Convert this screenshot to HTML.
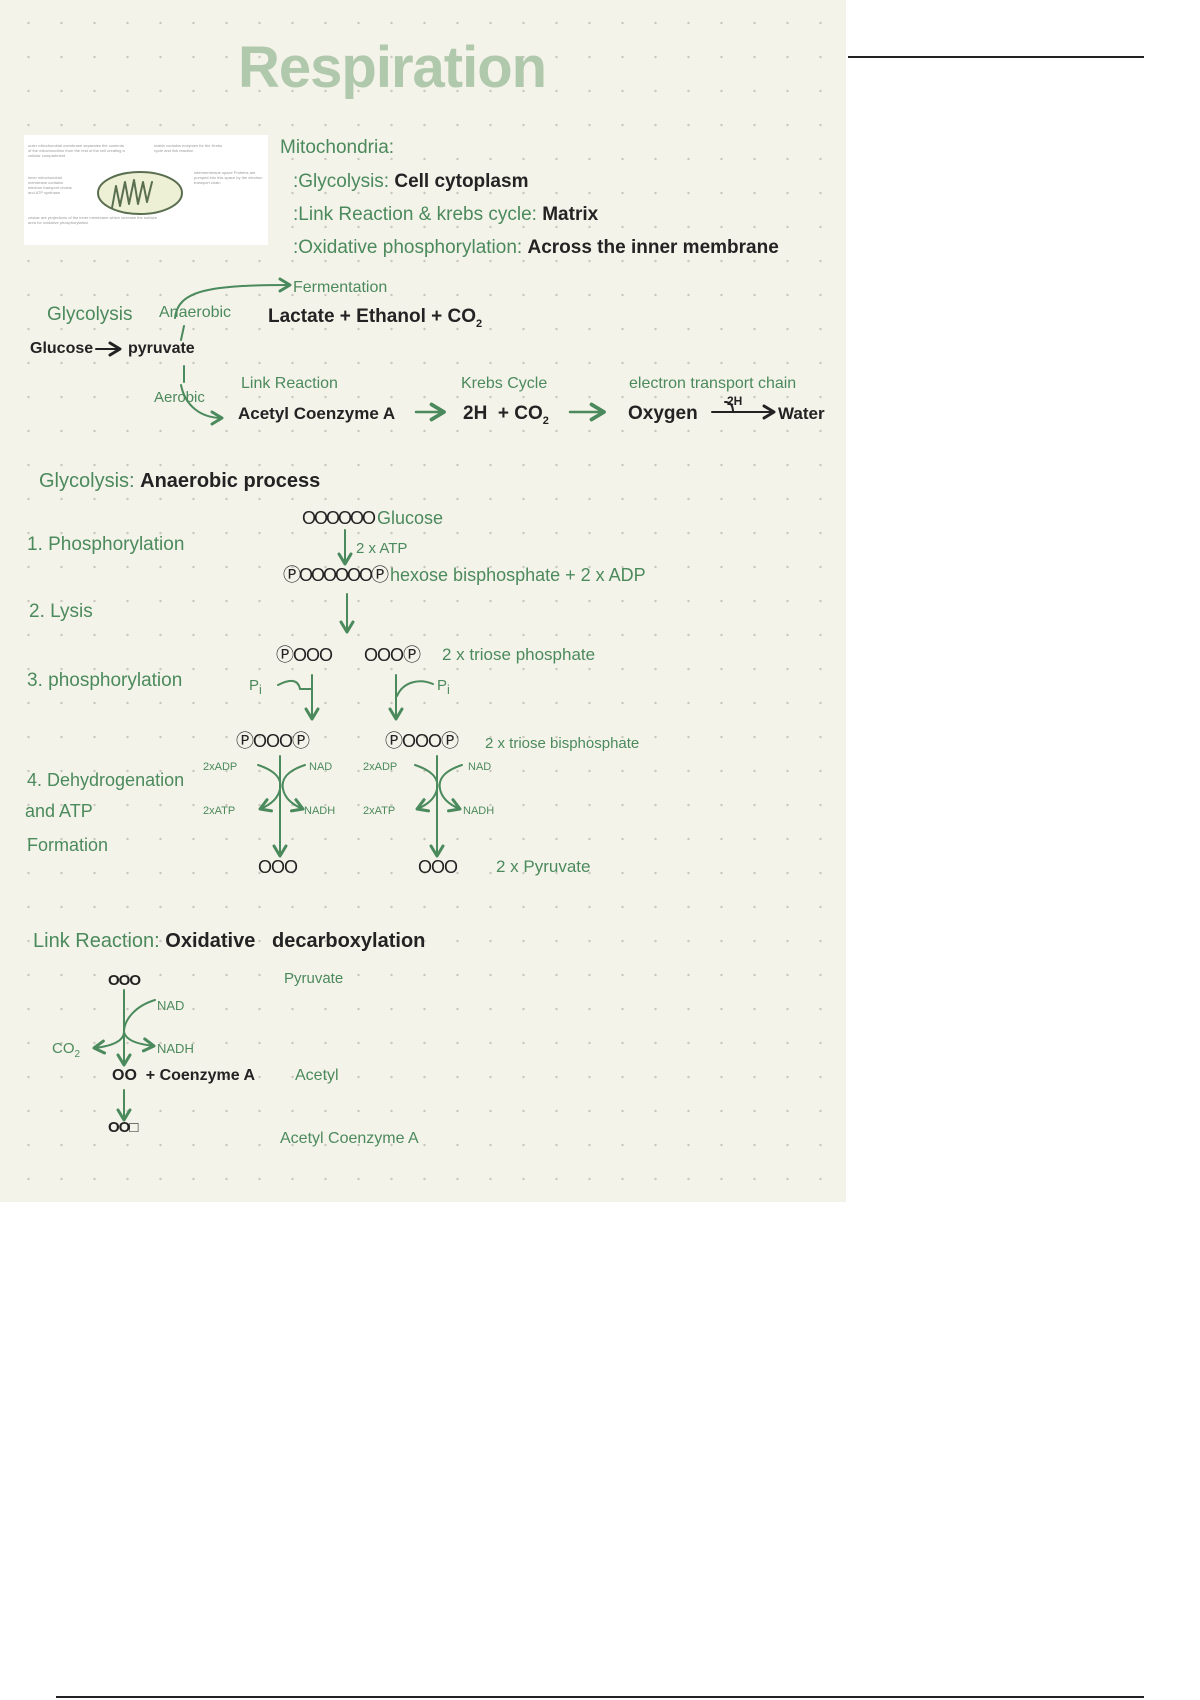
<!DOCTYPE html>
<html><head><meta charset="utf-8"><style>
body{margin:0;width:1200px;height:1700px;background:#fff;position:relative;overflow:hidden;font-family:"Liberation Sans",sans-serif}
#panel{position:absolute;left:0;top:0;width:846px;height:1202px;background-color:#f4f3ea;background-image:radial-gradient(circle,#c9c9bf 1.1px,transparent 1.4px);background-size:33px 34px;background-position:12px 6px}
.t{position:absolute;white-space:nowrap;font-size:19px;line-height:24px}
.g{color:#4b8a5c}.k{color:#232323;font-weight:bold}
.s{font-size:13px}
svg{position:absolute;left:0;top:0}
.img{position:absolute;left:24px;top:135px;width:244px;height:110px;background:#fff}
.tx{position:absolute;font-size:4px;line-height:5px;color:#999}
</style></head><body>
<div id="panel"></div>
<div style="position:absolute;left:848px;top:56px;width:296px;height:2px;background:#222"></div>
<div style="position:absolute;left:56px;top:1696px;width:1088px;height:2px;background:#222"></div>

<div class="t" style="left:238px;top:30px;font-size:58px;line-height:76px;color:#b0c8ab;font-weight:bold;letter-spacing:-1px">Respiration</div>

<div class="img">
<div class="tx" style="left:4px;top:8px;width:100px">outer mitochondrial membrane separates the contents of the mitochondrion from the rest of the cell creating a cellular compartment</div>
<div class="tx" style="left:130px;top:8px;width:70px">matrix contains enzymes for the Krebs cycle and link reaction</div>
<div class="tx" style="left:4px;top:40px;width:50px">inner mitochondrial membrane contains electron transport chains and ATP synthase</div>
<div class="tx" style="left:170px;top:35px;width:70px">intermembrane space Proteins are pumped into this space by the electron transport chain</div>
<div class="tx" style="left:4px;top:80px;width:130px">cristae are projections of the inner membrane which increase the surface area for oxidative phosphorylation</div>
</div>

<svg width="1200" height="1700" fill="none" stroke-linecap="round" stroke-linejoin="round">
<defs><marker id="a" markerWidth="8" markerHeight="8" refX="6" refY="4" orient="auto"><path d="M1,1 L6,4 L1,7" stroke="#4b8a5c" stroke-width="1.5" fill="none"/></marker>
<marker id="b" markerWidth="8" markerHeight="8" refX="6" refY="4" orient="auto"><path d="M1,1 L6,4 L1,7" stroke="#222" stroke-width="1.5" fill="none"/></marker></defs>
<ellipse cx="140" cy="193" rx="42" ry="21" fill="#eef0d6" stroke="#5a6e50" stroke-width="2"/>
<path d="M112,208 l4,-22 l4,20 l5,-24 l4,22 l5,-24 l4,24 l5,-22 l4,20 l5,-20" stroke="#5a6e50" stroke-width="2"/>
<path d="M175,318 C178,290 210,285 290,285" stroke="#4b8a5c" stroke-width="2" marker-end="url(#a)"/>
<path d="M184,326 l-3,14 M184,366 l0,16" stroke="#4b8a5c" stroke-width="2"/>
<path d="M181,385 C185,405 200,418 222,418" stroke="#4b8a5c" stroke-width="2" marker-end="url(#a)"/>
<path d="M96,349 h24" stroke="#222" stroke-width="2" marker-end="url(#b)"/>
<path d="M416,412 h28" stroke="#4b8a5c" stroke-width="2.5" marker-end="url(#a)"/>
<path d="M570,412 h34" stroke="#4b8a5c" stroke-width="2.5" marker-end="url(#a)"/>
<path d="M712,412 h62" stroke="#222" stroke-width="2" marker-end="url(#b)"/>
<path d="M725,402 c6,0 8,4 8,10" stroke="#222" stroke-width="2"/>
<path d="M345,530 v34" stroke="#4b8a5c" stroke-width="2" marker-end="url(#a)"/>
<path d="M347,594 v38" stroke="#4b8a5c" stroke-width="2" marker-end="url(#a)"/>
<path d="M278,685 c12,-6 20,-6 22,4 l12,0 v30" stroke="#4b8a5c" stroke-width="2"/>
<path d="M312,675 v44" stroke="#4b8a5c" stroke-width="2" marker-end="url(#a)"/>
<path d="M396,675 v44" stroke="#4b8a5c" stroke-width="2" marker-end="url(#a)"/>
<path d="M433,684 c-14,-6 -30,-2 -36,12" stroke="#4b8a5c" stroke-width="2"/>
<g stroke="#4b8a5c" stroke-width="2">
<path d="M280,756 v100" marker-end="url(#a)"/>
<path d="M258,765 c18,6 24,14 22,24 c-2,10 -10,16 -20,20" marker-end="url(#a)"/>
<path d="M305,765 c-18,6 -24,14 -22,24 c2,10 10,16 20,20" marker-end="url(#a)"/>
<path d="M437,756 v100" marker-end="url(#a)"/>
<path d="M415,765 c18,6 24,14 22,24 c-2,10 -10,16 -20,20" marker-end="url(#a)"/>
<path d="M462,765 c-18,6 -24,14 -22,24 c2,10 10,16 20,20" marker-end="url(#a)"/>
<path d="M124,990 v75" marker-end="url(#a)"/>
<path d="M155,1000 c-20,6 -31,20 -31,32 c0,8 -10,14 -30,16" marker-end="url(#a)"/>
<path d="M124,1032 c2,8 12,12 30,14" marker-end="url(#a)"/>
<path d="M124,1090 v30" marker-end="url(#a)"/>
</g>
</svg>

<div class="t g" style="left:280px;top:136px">Mitochondria:</div>
<div class="t g" style="left:293px;top:170px">:Glycolysis: <span class="k">Cell cytoplasm</span></div>
<div class="t g" style="left:293px;top:203px">:Link Reaction &amp; krebs cycle: <span class="k">Matrix</span></div>
<div class="t g" style="left:293px;top:236px">:Oxidative phosphorylation: <span class="k">Across the inner membrane</span></div>

<div class="t g s" style="left:293px;top:276px;font-size:16px">Fermentation</div>
<div class="t g" style="left:47px;top:303px">Glycolysis</div>
<div class="t g s" style="left:159px;top:301px;font-size:16px">Anaerobic</div>
<div class="t k" style="left:268px;top:305px">Lactate + Ethanol + CO<sub style="font-size:11px">2</sub></div>
<div class="t k" style="left:30px;top:337px;font-size:16px">Glucose</div>
<div class="t k" style="left:128px;top:337px;font-size:16px">pyruvate</div>
<div class="t g s" style="left:154px;top:386px;font-size:15px">Aerobic</div>
<div class="t g s" style="left:241px;top:372px;font-size:16px">Link Reaction</div>
<div class="t g s" style="left:461px;top:372px;font-size:16px">Krebs Cycle</div>
<div class="t g s" style="left:629px;top:372px;font-size:16px">electron transport chain</div>
<div class="t k" style="left:238px;top:402px;font-size:17px">Acetyl Coenzyme A</div>
<div class="t k" style="left:463px;top:402px">2H &nbsp;+ CO<sub style="font-size:11px">2</sub></div>
<div class="t k" style="left:628px;top:402px">Oxygen</div>
<div class="t k s" style="left:727px;top:389px;font-size:12px">2H</div>
<div class="t k" style="left:778px;top:402px;font-size:17px">Water</div>

<div class="t g" style="left:39px;top:469px;font-size:20px">Glycolysis: <span class="k">Anaerobic process</span></div>
<div class="t" style="left:302px;top:506px;color:#222;font-size:18px;letter-spacing:-2px">OOOOOO <span class="g" style="letter-spacing:0">Glucose</span></div>
<div class="t g" style="left:27px;top:533px">1. Phosphorylation</div>
<div class="t g s" style="left:356px;top:537px;font-size:15px">2 x ATP</div>
<div class="t" style="left:283px;top:563px;color:#222;font-size:18px;letter-spacing:-2px">ⓅOOOOOOⓅ <span class="g" style="letter-spacing:0">hexose bisphosphate + 2 x ADP</span></div>
<div class="t g" style="left:29px;top:600px">2. Lysis</div>
<div class="t" style="left:276px;top:643px;color:#222;font-size:18px;letter-spacing:-1px">ⓅOOO</div>
<div class="t" style="left:364px;top:643px;color:#222;font-size:18px;letter-spacing:-1px">OOOⓅ</div>
<div class="t g" style="left:442px;top:643px;font-size:17px">2 x triose phosphate</div>
<div class="t g" style="left:27px;top:669px">3. phosphorylation</div>
<div class="t g s" style="left:249px;top:674px;font-size:15px">P<sub>i</sub></div>
<div class="t g s" style="left:437px;top:674px;font-size:15px">P<sub>i</sub></div>
<div class="t" style="left:236px;top:729px;color:#222;font-size:18px;letter-spacing:-1px">ⓅOOOⓅ</div>
<div class="t" style="left:385px;top:729px;color:#222;font-size:18px;letter-spacing:-1px">ⓅOOOⓅ</div>
<div class="t g s" style="left:485px;top:732px;font-size:15px">2 x triose bisphosphate</div>
<div class="t g s" style="left:203px;top:755px;font-size:11px">2xADP</div>
<div class="t g s" style="left:309px;top:755px;font-size:11px">NAD</div>
<div class="t g s" style="left:363px;top:755px;font-size:11px">2xADP</div>
<div class="t g s" style="left:468px;top:755px;font-size:11px">NAD</div>
<div class="t g s" style="left:203px;top:799px;font-size:11px">2xATP</div>
<div class="t g s" style="left:304px;top:799px;font-size:11px">NADH</div>
<div class="t g s" style="left:363px;top:799px;font-size:11px">2xATP</div>
<div class="t g s" style="left:463px;top:799px;font-size:11px">NADH</div>
<div class="t g" style="left:27px;top:768px;font-size:18px">4. Dehydrogenation</div>
<div class="t g" style="left:25px;top:799px;font-size:18px">and ATP</div>
<div class="t g" style="left:27px;top:833px;font-size:18px">Formation</div>
<div class="t" style="left:258px;top:855px;color:#222;font-size:18px;letter-spacing:-1px">OOO</div>
<div class="t" style="left:418px;top:855px;color:#222;font-size:18px;letter-spacing:-1px">OOO</div>
<div class="t g" style="left:496px;top:855px;font-size:17px">2 x Pyruvate</div>

<div class="t g" style="left:33px;top:929px;font-size:20px">Link Reaction: <span class="k">Oxidative &nbsp; decarboxylation</span></div>
<div class="t" style="left:108px;top:969px;color:#222;font-size:15px;letter-spacing:-1px;font-weight:bold">OOO</div>
<div class="t g s" style="left:284px;top:967px;font-size:15px">Pyruvate</div>
<div class="t g s" style="left:157px;top:994px;font-size:13px">NAD</div>
<div class="t g s" style="left:52px;top:1037px;font-size:15px">CO<sub style="font-size:10px">2</sub></div>
<div class="t g s" style="left:157px;top:1037px;font-size:13px">NADH</div>
<div class="t k" style="left:112px;top:1064px;font-size:16px">OO &nbsp;+ Coenzyme A</div>
<div class="t g s" style="left:295px;top:1064px;font-size:16px">Acetyl</div>
<div class="t" style="left:108px;top:1116px;color:#222;font-size:15px;letter-spacing:-1px;font-weight:bold">OO□</div>
<div class="t g s" style="left:280px;top:1127px;font-size:16px">Acetyl Coenzyme A</div>
</body></html>
